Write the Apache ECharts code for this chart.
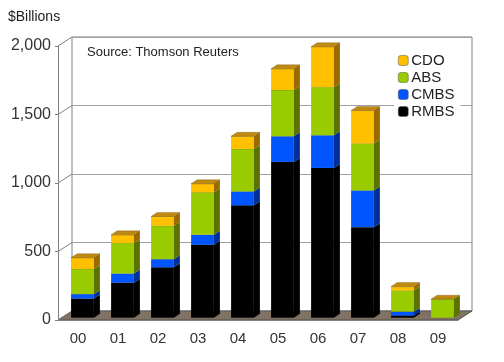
<!DOCTYPE html>
<html>
<head>
<meta charset="utf-8">
<script src="https://cdn.jsdelivr.net/npm/echarts@6/dist/echarts.min.js"></script>
<style>html,body{margin:0;padding:0;background:#fff}#c{width:504px;height:362px}</style>
</head>
<body>
<div id="c"></div>
<script>
var categories = ['00','01','02','03','04','05','06','07','08','09'];
var RMBS = [140, 256, 368, 532, 820, 1137, 1093, 661, 15, 0];
var CMBS = [32, 66, 59, 73, 102, 187, 238, 268, 29, 0];
var ABS  = [183, 222, 244, 310, 310, 338, 352, 342, 154, 135];
var CDO  = [83, 61, 68, 63, 92, 155, 295, 241, 29, 0];
var yTicks = [0, 500, 1000, 1500, 2000];

var DX = 14, DY = -9;          // floor/wall depth
var BX0 = 4.5, BY0 = -2.3;     // bar front plane offset
var BDX = 6, BDY = -4;         // bar depth

var segs = [
  {name:'RMBS', vals:RMBS, front:'#000000', side:'#000000', top:'#222'},
  {name:'CMBS', vals:CMBS, front:'#0055ff', side:'#002f99', top:'#0040c0'},
  {name:'ABS',  vals:ABS,  front:'#99cc00', side:'#5a7300', top:'#7a9a00'},
  {name:'CDO',  vals:CDO,  front:'#ffc000', side:'#9a6a00', top:'#c08a10'}
];

var base = categories.map(function(){return 0;});
var barSeries = segs.map(function(s, k){
  var data = s.vals.map(function(v, i){
    var b = base[i]; base[i] += v;
    return [i, b, b + v];
  });
  var isTop = (k === segs.length - 1);
  return {
    type:'custom', name:s.name, xAxisIndex:0, yAxisIndex:0, z:5,
    itemStyle:{color:s.front, borderColor:'#444', borderWidth:0.5},
    encode:{x:0, y:[1,2]},
    data:data,
    renderItem:function(params, api){
      var i = api.value(0);
      var c = api.coord([i, 0])[0];
      var band = api.size([1, 0])[0];
      var w = band * 0.57;
      var x = c - w/2 + BX0;
      var yb = api.coord([i, api.value(1)])[1] + BY0;
      var yt = api.coord([i, api.value(2)])[1] + BY0;
      var children = [];
      if (yb - yt > 0.01) {
        children.push({type:'rect', shape:{x:x, y:yt, width:w, height:yb-yt},
          style:{fill:s.front, stroke:null}});
        children.push({type:'polygon', shape:{points:[[x+w,yt],[x+w+BDX,yt+BDY],[x+w+BDX,yb+BDY],[x+w,yb]]},
          style:{fill:s.side, stroke:null}});
        children.push({type:'line', shape:{x1:x, y1:yt, x2:x+w, y2:yt}, style:{stroke:'rgba(0,0,0,0.35)', lineWidth:0.6}});
      }
      if (isTop) {
        children.push({type:'polygon', shape:{points:[[x,yt],[x+w,yt],[x+w+BDX,yt+BDY],[x+BDX,yt+BDY]]},
          style:{fill:s.top, stroke:'rgba(80,50,0,0.5)', lineWidth:0.5}});
      }
      return {type:'group', children:children};
    }
  };
});

var floorSeries = {
  type:'custom', xAxisIndex:0, yAxisIndex:0, z:2, silent:true,
  data:[[0]],
  renderItem:function(params, api){
    var band = api.size([1, 0])[0];
    var l = api.coord([0, 0]); var r = api.coord([categories.length-1, 0]);
    var xl = l[0] - band/2, xr = r[0] + band/2, y = l[1];
    return {type:'polygon', shape:{points:[[xl,y],[xr,y],[xr+DX,y+DY],[xl+DX,y+DY]]},
      style:{fill:'#7f7263', stroke:'#555', lineWidth:1}};
  }
};

var wallLines = {
  type:'custom', xAxisIndex:0, yAxisIndex:0, z:2, silent:true,
  data:yTicks.map(function(v){return [0, v];}),
  renderItem:function(params, api){
    var band = api.size([1, 0])[0];
    var p = api.coord([0, api.value(1)]);
    var xl = p[0] - band/2;
    return {type:'line', shape:{x1:xl, y1:p[1], x2:xl+DX, y2:p[1]+DY},
      style:{stroke:'#808080', lineWidth:1}};
  }
};

var chart = echarts.init(document.getElementById('c'));
chart.setOption({
  animation:false,
  backgroundColor:'#fff',
  textStyle:{fontFamily:'Liberation Sans, Arial, sans-serif'},
  graphic:[
    {type:'text', left:8, top:10, style:{text:'$Billions', fontSize:14, fill:'#222', fontFamily:'Liberation Sans'}},
    {type:'text', left:87, top:46, z:10, style:{text:'Source: Thomson Reuters', fontSize:13, fill:'#222', fontFamily:'Liberation Sans'}}
  ],
  legend:{
    orient:'vertical', left:394, top:51, itemWidth:10, itemHeight:10, itemGap:2,
    padding:[2,6,2,4], backgroundColor:'#fff', z:10,
    data:['CDO','ABS','CMBS','RMBS'],
    itemStyle:{borderColor:'#555', borderWidth:0.5},
    textStyle:{fontSize:15, color:'#222', fontFamily:'Liberation Sans', padding:[0,0,0,-2]}
  },
  grid:[
    {left:58, right:46, top:46, bottom:42},
    {left:72, right:32, top:37, bottom:51, show:true, borderColor:'#808080', borderWidth:1, backgroundColor:'#fff'}
  ],
  xAxis:[
    {type:'category', gridIndex:0, data:categories, z:6,
      axisLine:{lineStyle:{color:'#808080'}},
      axisTick:{length:5, lineStyle:{color:'#808080'}},
      axisLabel:{fontSize:15, color:'#333', margin:11, fontFamily:'Liberation Sans'}},
    {type:'category', gridIndex:1, data:categories, show:false}
  ],
  yAxis:[
    {type:'value', gridIndex:0, min:0, max:2000, interval:500, z:6,
      axisLine:{show:true, lineStyle:{color:'#808080'}},
      axisTick:{show:true, length:3, lineStyle:{color:'#808080'}},
      splitLine:{show:false},
      axisLabel:{fontSize:16, color:'#333', margin:7, fontFamily:'Liberation Sans',
        formatter:function(v){return v.toLocaleString('en-US');}}},
    {type:'value', gridIndex:1, min:0, max:2000, interval:500,
      axisLine:{show:false}, axisTick:{show:false}, axisLabel:{show:false},
      splitLine:{show:true, lineStyle:{color:'#a0a0a0', width:1}}}
  ],
  series:[floorSeries, wallLines].concat(barSeries)
});
</script>
</body>
</html>
